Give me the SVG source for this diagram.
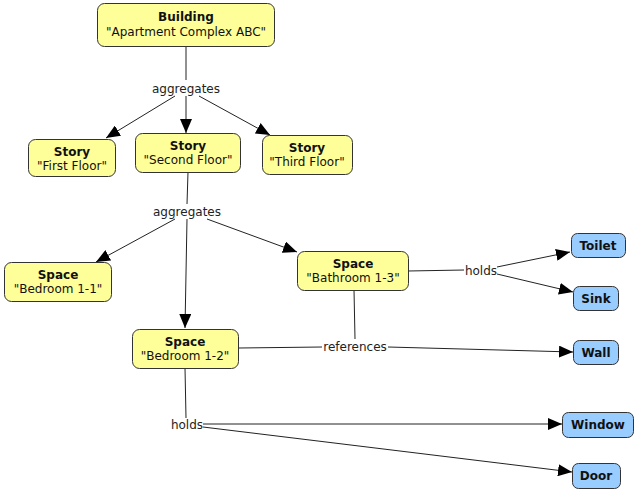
<svg xmlns="http://www.w3.org/2000/svg" width="640" height="495" viewBox="0 0 640 495">
<style>
.y{fill:#ffff99;stroke:#333;stroke-width:1}
.b{fill:#99ccff;stroke:#333;stroke-width:1}
text{font-family:"DejaVu Sans",Verdana,sans-serif;font-size:12px;fill:#111;text-anchor:middle}
.t{font-weight:bold}
.c{fill:none;stroke:#222;stroke-width:1}
.a{marker-end:url(#ah)}
.lbl{fill:#222}
</style>
<defs>
<marker id="ah" markerUnits="userSpaceOnUse" markerWidth="14" markerHeight="12" viewBox="0 0 14 12" refX="14" refY="6" orient="auto">
<path d="M0,0 L14,6 L0,12 z" fill="#000"/>
</marker>
</defs>
<rect width="640" height="495" fill="#fff"/>
<g id="connectors">
<line class="c" x1="186" y1="46" x2="186" y2="80"/>
<line class="c a" x1="175" y1="96" x2="106" y2="138"/>
<line class="c a" x1="186" y1="96" x2="186" y2="133"/>
<line class="c a" x1="199" y1="96" x2="270" y2="135"/>
<line class="c" x1="188" y1="172" x2="187" y2="204"/>
<line class="c a" x1="175" y1="219" x2="96" y2="262"/>
<line class="c a" x1="187" y1="219" x2="185" y2="328"/>
<line class="c a" x1="207" y1="219" x2="297" y2="252"/>
<line class="c" x1="408" y1="271" x2="464" y2="270"/>
<line class="c a" x1="497" y1="267" x2="570" y2="252"/>
<line class="c a" x1="497" y1="274" x2="573" y2="292"/>
<line class="c" x1="354" y1="290" x2="355" y2="339"/>
<line class="c" x1="239" y1="348" x2="322" y2="347"/>
<line class="c a" x1="388" y1="347" x2="573" y2="352"/>
<line class="c" x1="185" y1="368" x2="186" y2="418"/>
<line class="c a" x1="203" y1="424" x2="562" y2="424"/>
<line class="c a" x1="203" y1="427" x2="572" y2="472"/>
<text class="lbl" x="186" y="93">aggregates</text>
<text class="lbl" x="187" y="216">aggregates</text>
<text class="lbl" x="481" y="275">holds</text>
<text class="lbl" x="355" y="351">references</text>
<text class="lbl" x="187" y="429">holds</text>
</g>
<g id="building">
<rect class="y" x="97.5" y="3.5" width="177" height="43" rx="7"/>
<text class="t" x="186" y="21">Building</text>
<text x="186" y="36">"Apartment Complex ABC"</text>
</g>
<g id="story1">
<rect class="y" x="28.5" y="139.5" width="87" height="37" rx="7"/>
<text class="t" x="72" y="156">Story</text>
<text x="72" y="170">"First Floor"</text>
</g>
<g id="story2">
<rect class="y" x="135.5" y="133.5" width="105" height="39" rx="7"/>
<text class="t" x="188" y="150">Story</text>
<text x="188" y="164">"Second Floor"</text>
</g>
<g id="story3">
<rect class="y" x="262.5" y="135.5" width="90" height="39" rx="7"/>
<text class="t" x="307" y="152">Story</text>
<text x="307" y="166">"Third Floor"</text>
</g>
<g id="space11">
<rect class="y" x="4.5" y="262.5" width="107" height="39" rx="7"/>
<text class="t" x="58" y="279">Space</text>
<text x="58" y="293">"Bedroom 1-1"</text>
</g>
<g id="space13">
<rect class="y" x="297.5" y="251.5" width="111" height="39" rx="7"/>
<text class="t" x="353" y="268">Space</text>
<text x="353" y="282">"Bathroom 1-3"</text>
</g>
<g id="space12">
<rect class="y" x="132.5" y="329.5" width="106" height="39" rx="7"/>
<text class="t" x="185" y="346">Space</text>
<text x="185" y="360">"Bedroom 1-2"</text>
</g>
<g id="toilet">
<rect class="b" x="571.5" y="233.5" width="54" height="24" rx="6"/>
<text class="t" x="598" y="250">Toilet</text>
</g>
<g id="sink">
<rect class="b" x="573.5" y="286.5" width="45" height="24" rx="6"/>
<text class="t" x="596" y="303">Sink</text>
</g>
<g id="wall">
<rect class="b" x="573.5" y="340.5" width="45" height="24" rx="6"/>
<text class="t" x="596" y="357">Wall</text>
</g>
<g id="window">
<rect class="b" x="562.5" y="412.5" width="71" height="25" rx="6"/>
<text class="t" x="598" y="429">Window</text>
</g>
<g id="door">
<rect class="b" x="572.5" y="463.5" width="48" height="25" rx="6"/>
<text class="t" x="596" y="480">Door</text>
</g>
</svg>
